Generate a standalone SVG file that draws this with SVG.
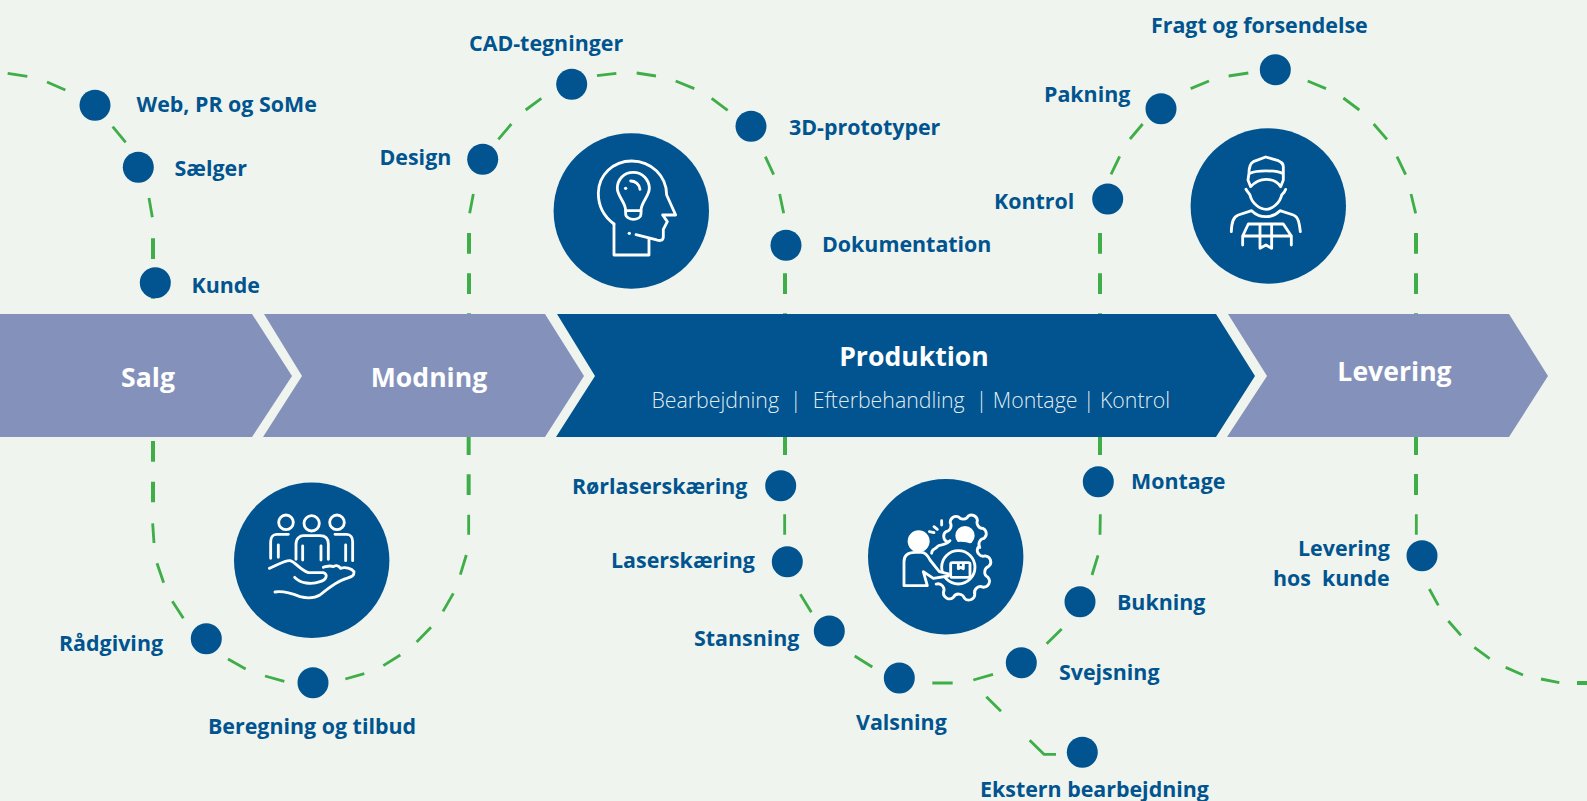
<svg xmlns="http://www.w3.org/2000/svg" width="1587" height="801" viewBox="0 0 1587 801">
<style>
.lb{font-family:"Open Sans","Liberation Sans",sans-serif;font-weight:700;font-size:21.4px;fill:#01548f}
.st{font-family:"Open Sans","Liberation Sans",sans-serif;font-weight:700;font-size:26.6px;fill:#fff;text-anchor:middle}
.sub{font-family:"Open Sans","Liberation Sans",sans-serif;font-weight:300;font-size:21.3px;fill:#fff;fill-opacity:.9}
.dot{fill:#01548f}
.big{fill:#01548f}
.ic{fill:none;stroke:#fff;stroke-width:8.5;stroke-linecap:round;stroke-linejoin:round}
.w{fill:#fff}
.c{fill:none;stroke:#3fae49;stroke-width:8.5}
.v{fill:none;stroke:#3fae49;stroke-width:12}
</style>
<rect width="1587" height="801" fill="#eff5ee"/>
<g id="connectors">
<g transform="translate(0,50) scale(.33333)">
<path class="c" d="M23,70 L82,79 M141,96 L196,120 M338,230 L377,277 M447,444 L457,502"/>
<path class="v" d="M459,565 V627 M459,690 V746"/>
</g>
<g transform="translate(450,50) scale(.33333)">
<path class="c" d="M70,432 L59,490 M145,268 L184,222 M227,180 L274,145 M441,77 L499,70 M560,69 L618,78 M677,93 L733,116 M785,145 L833,181 M946,320 L971,374 M989,432 L1001,490"/>
<path class="v" d="M57,549 V611 M57,670 V732 M57,790 V795 M1005,670 V732 M1005,790 V795"/>
</g>
<g transform="translate(1080,50) scale(.33333)">
<path class="c" d="M93,373 L119,319 M150,267 L188,222 M332,116 L387,93 M446,78 L505,69 M683,93 L738,116 M790,144 L838,180 M881,222 L921,268 M951,320 L977,374 M993,432 L1007,490"/>
<path class="v" d="M60,549 V611 M60,670 V732 M60,790 V795 M1008,549 V611 M1008,670 V732 M1008,790 V795"/>
</g>
<g transform="translate(130,430) scale(.33333)">
<path class="c" d="M68,280 L72,339 M81,400 L101,458 M127,514 L160,565 M294,687 L347,717 M405,738 L463,754 M646,747 L703,731 M760,707 L811,675 M860,636 L903,592 M939,544 L970,490 M991,434 L1009,375 M1016,254 V314"/>
<path class="v" d="M69,33 V95 M69,155 V217 M1016,21 V75 M1016,133 V195"/>
</g>
<g transform="translate(770,430) scale(.33333)">
<path class="c" d="M44,253 V314 M91,493 L124,547 M254,678 L307,711 M487,759 H548 M610,750 L669,733 M830,641 L875,597 M966,435 L984,376 M991,253 L990,314 M649,800 L693,844 M779,931 L822,973 H858"/>
<path class="v" d="M45,21 V75 M990,21 V75"/>
</g>
<g transform="translate(1387,430) scale(.33333)">
<path class="c" d="M88,253 V314 M127,477 L154,526 M184,573 L222,616 M262,652 L308,686 M356,712 L408,735 M462,747 L517,758"/>
<path class="v" d="M87,21 V75 M87,132 V195 M570,759 H600"/>
</g>
</g>
<g id="salg"><path fill="#8492bb" d="M0,314 H252 L292,376 L252,437 H0 Z"/><text class="st" x="148" y="387">Salg</text></g>
<g id="modning"><path fill="#8492bb" d="M264,314 H545 L584,376 L545,437 H263 L302,376 Z"/><text class="st" x="429" y="387">Modning</text></g>
<g id="produktion"><path fill="#01548f" d="M557,314 H1216 L1255,376 L1216,437 H556 L595,376 Z"/><text class="st" x="914" y="366">Produktion</text><text class="sub" x="651.5" y="408" xml:space="preserve">Bearbejdning  |  Efterbehandling  | Montage | Kontrol</text></g>
<g id="levering"><path fill="#8492bb" d="M1228,314 H1509 L1548,376 L1509,437 H1227 L1267,376 Z"/><text class="st" x="1394.500" y="381">Levering</text></g>

<g id="icon-head"><circle class="big" cx="631.300" cy="211" r="77.700"/><g class="ic" transform="translate(520,110) scale(.3333)">
<path d="M282,342 C245,315 235,285 235,250 C235,195 280,153 335,153 C395,153 440,200 440,255 L467,315 L428,315 L442,335 L430,358 V380 C430,392 420,393 410,390 L348,374"/>
<path d="M282,342 V435 H387 V388"/>
<path d="M340,187 C310,187 292,210 292,235 C292,258 315,275 317,300 V312 C317,322 330,328 340,328 C352,328 363,322 363,312 V300 C365,275 388,258 388,235 C388,210 368,187 340,187 Z"/>
<path d="M317,302 H363 M332,213 C345,213 358,222 360,238"/>
<circle class="w" cx="317" cy="235" r="5" stroke="none"/><circle class="w" cx="328" cy="370" r="5" stroke="none"/>
</g></g>
<g id="icon-delivery"><circle class="big" cx="1268.300" cy="206" r="77.700"/><g class="ic" transform="translate(1170,110) scale(.3333)">
<path d="M287,141 L250,155 C240,160 237,170 237,190 L234,210 L242,230 C260,210 280,208 288,208 C300,208 320,212 332,230 L340,210 V170 C340,160 335,157 325,152 Z"/>
<path d="M240,190 C260,180 315,180 338,190"/>
<path d="M228,238 C232,245 238,250 240,255 C245,280 270,298 288,298 C305,298 330,280 335,255 C340,250 345,245 347,238"/>
<path d="M184,365 C185,335 190,320 205,315 L245,302 C255,312 270,320 288,320 C305,320 320,312 330,302 L370,315 C385,320 388,340 391,365"/>
<path d="M218,405 V378 L235,342 H340 L364,378 V405 M218,378 H364"/>
<path d="M270,345 V415 L288,405 L305,415 V345"/>
</g></g>
<g id="icon-hand"><circle class="big" cx="311.700" cy="560.300" r="77.700"/><g class="ic" transform="translate(220,470) scale(.3333)">
<circle cx="198" cy="157" r="22"/><circle cx="275" cy="160" r="23"/><circle cx="351" cy="157" r="22"/>
<path d="M205,193 H170 C158,193 152,203 152,215 V265 M175,225 V262"/>
<path d="M228,268 V222 C228,205 240,197 250,197 H300 C315,197 325,205 325,222 V268 M248,228 V270 M303,228 V270"/>
<path d="M345,193 H380 C392,193 398,203 398,215 V272 M377,225 V272"/>
<path d="M148,295 C170,287 195,270 210,272 C225,275 240,300 265,308 H310 C325,312 320,330 300,335 C275,345 240,340 224,322"/>
<path d="M310,292 C325,288 330,285 340,290 C345,285 355,285 362,295 C375,290 395,295 402,305 C403,318 395,320 380,325 C360,330 330,350 300,375 C280,387 260,385 240,380 C215,370 190,362 165,366"/>
</g></g>
<g id="icon-factory"><circle class="big" cx="945.700" cy="556.700" r="77.700"/><g class="ic" transform="translate(850,470) scale(.3333)">
<circle class="w" cx="345" cy="197" r="29" stroke="none"/>
<path d="M290.500,214.800 A18,18 0 0 1 287.900,184.900 A18,18 0 0 0 300.600,157.700 A18,18 0 0 1 325.200,140.500 A18,18 0 0 0 355.100,137.900 A18,18 0 0 1 382.300,150.600 A18,18 0 0 0 399.500,175.200 A18,18 0 0 1 402.100,205.100 A18,18 0 0 0 389.400,232.300"/>
<circle cx="332" cy="300" r="85" fill="#01548f" stroke="none"/>
<path d="M258.400,342.500 A18,18 0 0 1 280.300,367.400 A18,18 0 0 0 310,382.100 A18,18 0 0 1 343.100,384.300 A18,18 0 0 0 374.500,373.600 A18,18 0 0 1 399.400,351.700 A18,18 0 0 0 414.100,322 A18,18 0 0 1 416.300,288.900 A18,18 0 0 0 405.600,257.500 A18,18 0 0 1 383.700,232.600"/>
<path d="M300,212 C285,230 270,220 262,230 C255,240 245,235 245,250"/>
<circle cx="325" cy="292" r="50"/>
<rect x="302" y="278" width="58" height="44" rx="5"/>
<path d="M325,280 V296 L332,292 L340,296 V280"/>
<path d="M238,185 L252,188 M252,170 L262,178 M275,152 V165"/>
<circle class="w" cx="206" cy="214" r="33" stroke="none"/>
<path d="M162,347 V275 C162,255 175,247 195,247 H215 C228,247 235,260 240,270 L268,305 L295,312 V318 L250,325 L220,305 L232,347 Z" fill="#01548f"/>
</g></g>

<g id="n-web"><circle class="dot" cx="95" cy="105.300" r="15.500"/><text class="lb" x="136.500" y="112">Web, PR og SoMe</text></g>
<g id="n-saelger"><circle class="dot" cx="138.300" cy="167.300" r="15.500"/><text class="lb" x="174.500" y="176">Sælger</text></g>
<g id="n-kunde"><circle class="dot" cx="155.300" cy="282.700" r="15.500"/><text class="lb" x="191.500" y="293">Kunde</text></g>
<g id="n-design"><circle class="dot" cx="482.700" cy="159.300" r="15.500"/><text class="lb" x="379.500" y="165">Design</text></g>
<g id="n-cad"><circle class="dot" cx="571.700" cy="84.300" r="15.500"/><text class="lb" x="469" y="51">CAD-tegninger</text></g>
<g id="n-3d"><circle class="dot" cx="751" cy="126.300" r="15.500"/><text class="lb" x="789" y="135">3D-prototyper</text></g>
<g id="n-dok"><circle class="dot" cx="786" cy="245.300" r="15.500"/><text class="lb" x="822" y="252">Dokumentation</text></g>
<g id="n-kontrol"><circle class="dot" cx="1107.700" cy="199" r="15.500"/><text class="lb" x="994" y="209">Kontrol</text></g>
<g id="n-pakning"><circle class="dot" cx="1161" cy="108.700" r="15.500"/><text class="lb" x="1044" y="102">Pakning</text></g>
<g id="n-fragt"><circle class="dot" cx="1275.300" cy="69.700" r="15.500"/><text class="lb" x="1151" y="33">Fragt og forsendelse</text></g>
<g id="n-ror"><circle class="dot" cx="780.700" cy="485.700" r="15.500"/><text class="lb" x="572" y="494">Rørlaserskæring</text></g>
<g id="n-laser"><circle class="dot" cx="787.300" cy="561.700" r="15.500"/><text class="lb" x="611" y="568">Laserskæring</text></g>
<g id="n-stans"><circle class="dot" cx="829.300" cy="631" r="15.500"/><text class="lb" x="694" y="646">Stansning</text></g>
<g id="n-vals"><circle class="dot" cx="899.300" cy="678" r="15.500"/><text class="lb" x="856" y="730">Valsning</text></g>
<g id="n-svejs"><circle class="dot" cx="1021.300" cy="662.700" r="15.500"/><text class="lb" x="1059" y="680">Svejsning</text></g>
<g id="n-buk"><circle class="dot" cx="1080" cy="601.700" r="15.500"/><text class="lb" x="1117" y="610">Bukning</text></g>
<g id="n-montage"><circle class="dot" cx="1098.300" cy="481.700" r="15.500"/><text class="lb" x="1131" y="489">Montage</text></g>
<g id="n-rad"><circle class="dot" cx="206.300" cy="638.700" r="15.500"/><text class="lb" x="59" y="651">Rådgiving</text></g>
<g id="n-ber"><circle class="dot" cx="313" cy="682.700" r="15.500"/><text class="lb" x="208" y="734">Beregning og tilbud</text></g>
<g id="n-lev"><circle class="dot" cx="1422" cy="555.700" r="15.500"/><text class="lb" x="1298" y="556">Levering</text><text class="lb" x="1273" y="586" xml:space="preserve">hos  kunde</text></g>
<g id="n-eks"><circle class="dot" cx="1082.300" cy="752.300" r="15.500"/><text class="lb" x="980" y="797">Ekstern bearbejdning</text></g>
</svg>
